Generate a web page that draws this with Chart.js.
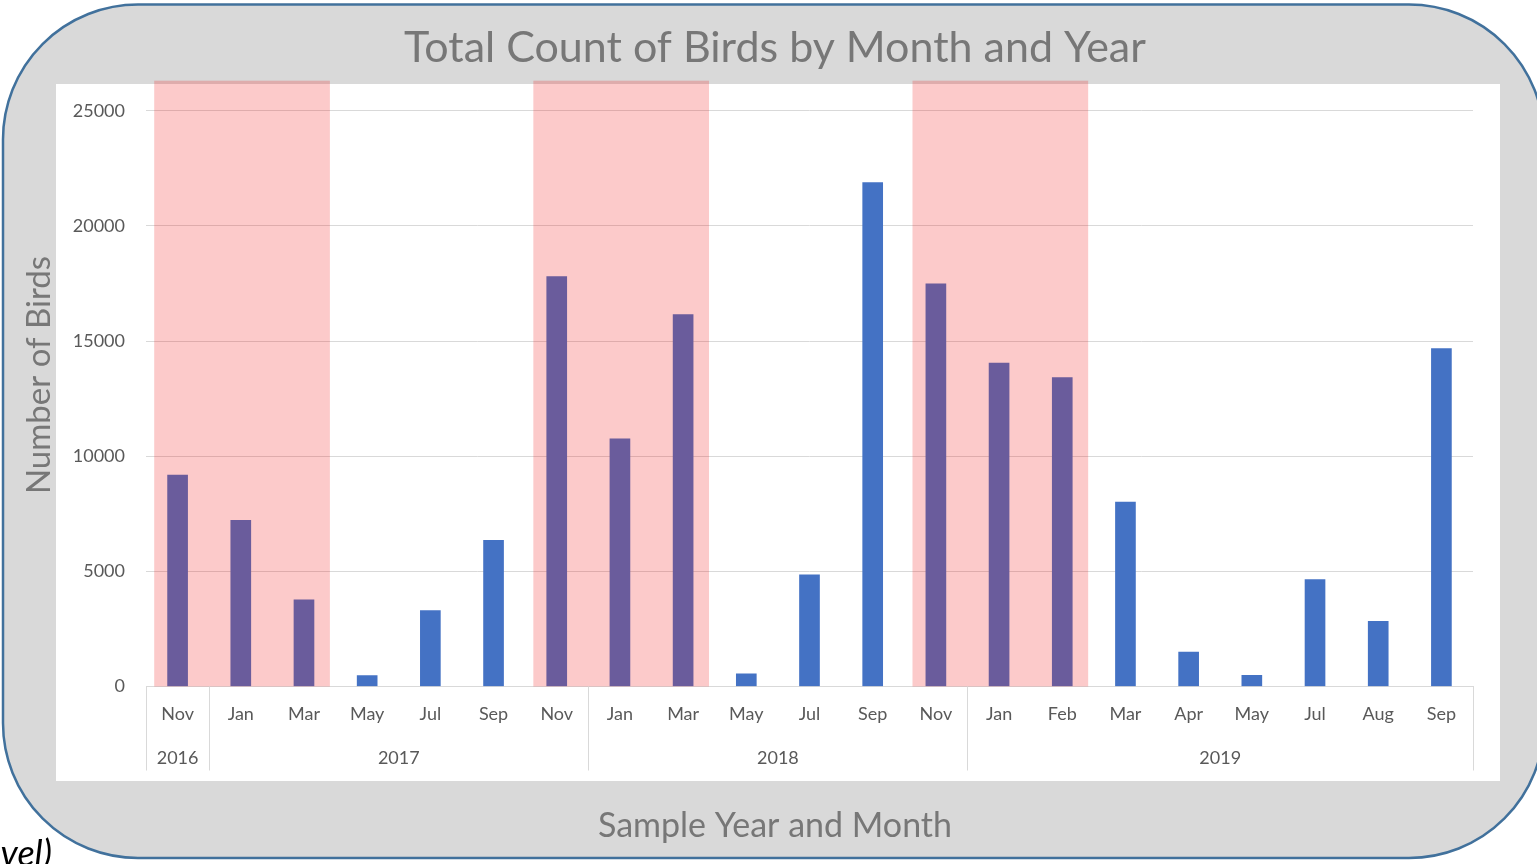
<!DOCTYPE html>
<html>
<head>
<meta charset="utf-8">
<title>Total Count of Birds by Month and Year</title>
<script src="https://cdn.jsdelivr.net/npm/chart.js@4.4.1/dist/chart.umd.min.js"></script>
<style>
  html, body { margin: 0; padding: 0; background: #fff; }
  #wrap { width: 1537px; height: 864px; position: relative; }
</style>
</head>
<body>
<div id="wrap"><canvas id="birdChart"></canvas></div>
<script>
// Daten: Monate und gezählte Vögel
const monate = ['Nov', 'Jan', 'Mar', 'May', 'Jul', 'Sep', 'Nov', 'Jan', 'Mar', 'May', 'Jul',
                'Sep', 'Nov', 'Jan', 'Feb', 'Mar', 'Apr', 'May', 'Jul', 'Aug', 'Sep'];
const anzahlVoegel = [9180, 7220, 3760, 470, 3300, 6350, 17800, 10750, 16150, 550, 4850,
                      21880, 17480, 14040, 13410, 8010, 1490, 480, 4640, 2830, 14670];
const jahre = ['2016', '2017', '2018', '2019'];
const monateProJahr = [1, 6, 6, 8];
// rosa hinterlegte Wintermonate (erster / letzter Index)
const winterStart = [0, 6, 12];
const winterEnde = [2, 8, 14];
const yAchsenTitel = 'Number of Birds';

Chart.defaults.font.family = 'Lato';

// Jahresmitte und Jahresgrenzen als Index auf der x-Achse
const jahrMitte = [];
const jahrGrenzen = [-0.5];
let pos = -0.5;
monateProJahr.forEach(n => {
  jahrMitte.push(pos + n / 2);
  pos += n;
  jahrGrenzen.push(pos);
});

// Zielbereich der Zeichenfläche, Titel-Mitte bei x = 775
const ziel = { left: 146, top: 110.7, right: 1473, bottom: 686.5, titelMitte: 775 };
const breite = 1537;
const p = { titelUnten: 38, links: 51, rechts: 38, rand: 26, unterTitelOben: 40 };

const hintergrund = {
  id: 'hintergrund',
  beforeDraw(chart) {
    const ctx = chart.ctx;
    ctx.save();
    ctx.fillStyle = '#ffffff';
    ctx.fillRect(0, 0, chart.width, chart.height);
    ctx.fillStyle = '#000000';
    ctx.font = 'italic 36px Lato';
    ctx.textAlign = 'right';
    ctx.textBaseline = 'alphabetic';
    ctx.fillText('level)', 52, 866);
    ctx.beginPath();
    ctx.roundRect(3, 4.5, 1541, 853.5, 135);
    ctx.fillStyle = '#d9d9d9';
    ctx.fill();
    ctx.lineWidth = 2.5;
    ctx.strokeStyle = '#41719c';
    ctx.stroke();
    ctx.fillStyle = '#ffffff';
    ctx.fillRect(56, 84, 1444, 697);
    ctx.restore();
  }
};

const winter = {
  id: 'winter',
  afterDatasetsDraw(chart) {
    const { ctx, chartArea, scales: { x } } = chart;
    const w = x.getPixelForValue(1) - x.getPixelForValue(0);
    ctx.save();
    ctx.fillStyle = 'rgba(240, 15, 15, 0.22)';
    winterStart.forEach((s, i) => {
      const x0 = x.getPixelForValue(s) - 0.37 * w;
      const x1 = x.getPixelForValue(winterEnde[i]) + 0.41 * w;
      ctx.fillRect(x0, chartArea.top - 30, x1 - x0, chartArea.bottom - chartArea.top + 30);
    });
    ctx.restore();
  }
};

const jahrTrenner = {
  id: 'jahrTrenner',
  afterDraw(chart) {
    const { ctx, chartArea, scales: { jahr } } = chart;
    ctx.save();
    ctx.strokeStyle = '#d9d9d9';
    ctx.lineWidth = 1;
    ctx.beginPath();
    jahrGrenzen.forEach(g => {
      const px = Math.round(jahr.getPixelForValue(g)) + 0.5;
      ctx.moveTo(px, chartArea.bottom);
      ctx.lineTo(px, chartArea.bottom + 84);
    });
    ctx.stroke();
    // y-Achsentitel, wie in Excel etwas über der Mitte
    ctx.fillStyle = '#777777';
    ctx.font = '33px Lato';
    ctx.textAlign = 'center';
    ctx.textBaseline = 'middle';
    ctx.translate(39, 375);
    ctx.rotate(-Math.PI / 2);
    ctx.fillText(yAchsenTitel, 0, 0);
    ctx.restore();
  }
};

function optionen() {
  return {
    responsive: true,
    maintainAspectRatio: false,
    animation: false,
    layout: { padding: { top: 0, left: p.links, right: p.rechts, bottom: 0 } },
    plugins: {
      legend: { display: false },
      tooltip: { enabled: false },
      title: {
        display: true,
        text: 'Total Count of Birds by Month and Year',
        color: '#777777',
        font: { size: 43, weight: 'normal' },
        padding: { top: 22, bottom: p.titelUnten }
      },
      subtitle: {
        display: true,
        position: 'bottom',
        text: 'Sample Year and Month',
        color: '#777777',
        font: { size: 34, weight: 'normal' },
        padding: { top: p.unterTitelOben, bottom: 17.6 }
      }
    },
    scales: {
      x: {
        type: 'category',
        position: 'bottom',
        weight: 0,
        grid: { display: false, drawTicks: false },
        border: { display: true, color: '#d9d9d9', width: 1 },
        ticks: { color: '#595959', font: { size: 18 }, padding: 16.7, autoSkip: false, maxRotation: 0 }
      },
      jahr: {
        type: 'linear',
        position: 'bottom',
        weight: 1,
        offset: false,
        bounds: 'data',
        min: -0.5,
        max: monate.length - 0.5,
        grid: { display: false, drawTicks: false, offset: false },
        border: { display: false },
        afterBuildTicks: axis => {
          axis.ticks = jahrMitte.map(v => ({ value: v }));
          axis.min = -0.5;
          axis.max = monate.length - 0.5;
        },
        ticks: {
          color: '#595959', font: { size: 18 }, padding: 5.4, autoSkip: false, maxRotation: 0,
          callback: (v, i) => jahre[i]
        }
      },
      y: {
        min: 0,
        max: 25000,
        grid: { color: '#d9d9d9', lineWidth: 1, drawTicks: false },
        border: { display: false },
        ticks: { stepSize: 5000, color: '#595959', font: { size: 18 }, padding: 21, callback: v => String(v) }
      },
      // leere Achse rechts, nur als Abstand
      rand: {
        type: 'linear',
        position: 'right',
        grid: { display: false, drawTicks: false },
        border: { display: false },
        ticks: { display: false },
        afterFit: axis => { axis.width = p.rand; }
      }
    }
  };
}

const daten = {
  labels: monate,
  datasets: [{
    label: 'Number of Birds',
    data: anzahlVoegel,
    backgroundColor: '#4472c4',
    barThickness: 20,
    xAxisID: 'x',
    yAxisID: 'y'
  }]
};

const canvas = document.getElementById('birdChart');
let chart = new Chart(canvas, { type: 'bar', data: daten, options: optionen(), plugins: [hintergrund, winter, jahrTrenner] });

// Abstände nachjustieren, damit die Zeichenfläche an der richtigen Stelle liegt
for (let k = 0; k < 3; k++) {
  const a = chart.chartArea;
  p.titelUnten -= a.top - ziel.top;
  p.links -= a.left - ziel.left;
  p.rechts = breite + p.links - 2 * ziel.titelMitte;
  p.rand = breite - p.rechts - ziel.right;
  p.unterTitelOben -= ziel.bottom - a.bottom;
  chart.destroy();
  chart = new Chart(canvas, { type: 'bar', data: daten, options: optionen(), plugins: [hintergrund, winter, jahrTrenner] });
}
</script>
</body>
</html>
